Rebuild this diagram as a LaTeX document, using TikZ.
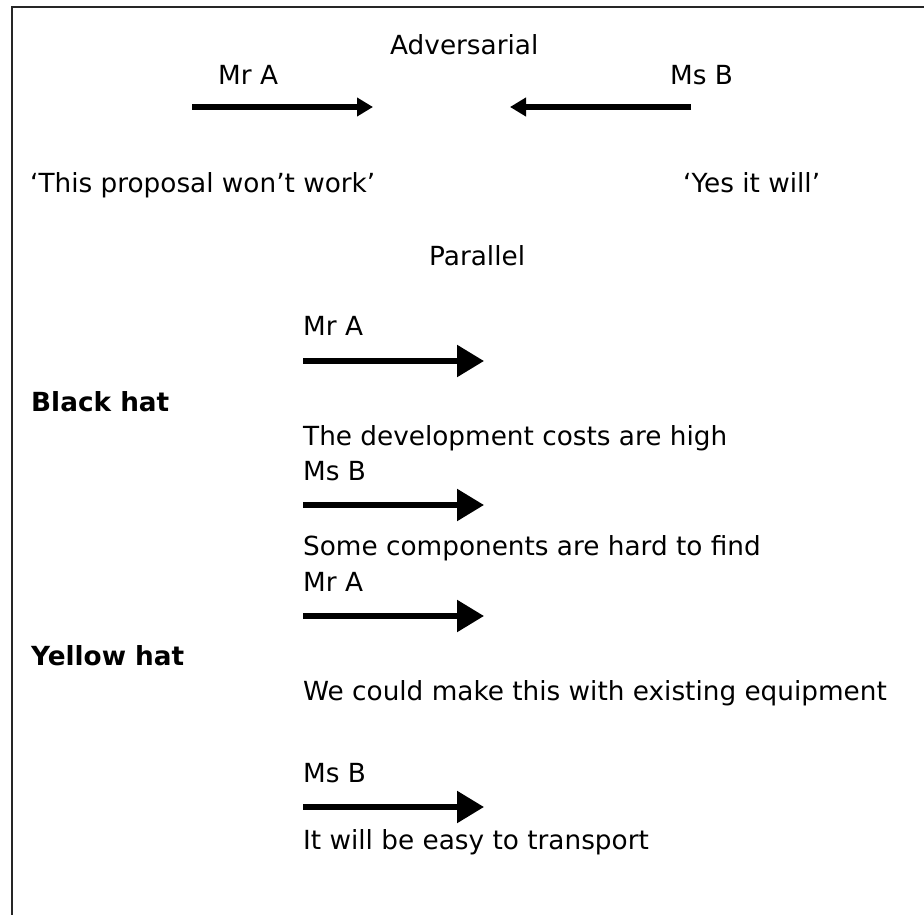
\documentclass[tikz,border=0pt]{standalone}
\usepackage{fontspec}
\setmainfont{DejaVu Sans}
\usetikzlibrary{arrows.meta}
\tikzset{
  txt/.style={inner sep=0pt, anchor=base west, font=\fontsize{26.3}{31}\selectfont},
  hat/.style={txt, font=\fontsize{26.3}{31}\selectfont\bfseries},
  smallarrow/.style={line width=5.5pt, -{Triangle[length=16pt,width=18pt]}},
  bigarrow/.style={line width=5.5pt, -{Triangle[length=27pt,width=31pt]}},
  frameline/.style={line width=2pt, color=black!85}
}
\begin{document}
\begin{tikzpicture}[x=1pt,y=-1pt]
\useasboundingbox (0,0) rectangle (924,915);
\coordinate (ftr) at (924,7);
\coordinate (ftl) at (11.5,7);
\coordinate (fbl) at (11.5,915);
\draw[frameline] (ftr) -- (ftl) -- (fbl);

\node[txt] (adv) at (390,55) {Adversarial};
\node[txt] (mra1) at (218,85) {Mr A};
\node[txt] (msb1) at (670,85) {Ms B};
\coordinate (a1s) at (192,107);
\coordinate (a1e) at (373,107);
\coordinate (a2s) at (691,107);
\coordinate (a2e) at (510,107);
\draw[smallarrow] (a1s) -- (a1e);
\draw[smallarrow] (a2s) -- (a2e);
\node[txt] (q1) at (30,193) {‘This proposal won’t work’};
\node[txt] (q2) at (683,193) {‘Yes it will’};
\node[txt] (par) at (429,265) {Parallel};

\node[txt] (mra2) at (303,335) {Mr A};
\coordinate (p1s) at (303,361);
\coordinate (p1e) at (484,361);
\draw[bigarrow] (p1s) -- (p1e);
\node[hat] (black) at (31,411) {Black hat};
\node[txt] (dev) at (303,445) {The development costs are high};
\node[txt] (msb2) at (303,480) {Ms B};
\coordinate (p2s) at (303,505);
\coordinate (p2e) at (484,505);
\draw[bigarrow] (p2s) -- (p2e);
\node[txt] (comp) at (303,555) {Some components are hard to find};
\node[txt] (mra3) at (303,591) {Mr A};
\coordinate (p3s) at (303,616);
\coordinate (p3e) at (484,616);
\draw[bigarrow] (p3s) -- (p3e);
\node[hat] (yellow) at (31,665) {Yellow hat};
\node[txt] (equip) at (303,700) {We could make this with existing equipment};
\node[txt] (msb3) at (303,782) {Ms B};
\coordinate (p4s) at (303,807);
\coordinate (p4e) at (484,807);
\draw[bigarrow] (p4s) -- (p4e);
\node[txt] (trans) at (303,849) {It will be easy to transport};
\end{tikzpicture}
\end{document}
